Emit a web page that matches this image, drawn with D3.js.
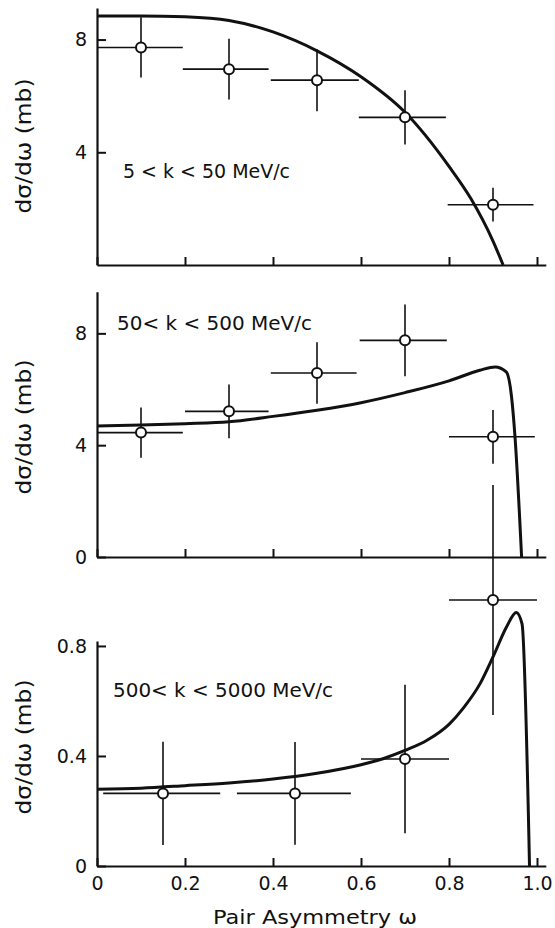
<!DOCTYPE html>
<html>
<head>
<meta charset="utf-8">
<script src="https://cdn.jsdelivr.net/npm/d3@7"></script>
<style>
  body { margin: 0; background: #fff; }
  svg { display: block; }
</style>
</head>
<body>
<div id="chart"></div>
<script>
// Pair asymmetry distributions, three photon-momentum bands

// x-axis ticks (shared)
const xTicks = [0, 0.2, 0.4, 0.6, 0.8, 1.0];

// panel 1: 5 < k < 50 MeV/c
const ptX1 = [0.1, 0.3, 0.5, 0.7, 0.9];
const ptY1 = [7.72, 6.95, 6.56, 5.24, 2.14];
const err1 = [1.07, 1.08, 1.1, 0.96, 0.6];
const binLo1 = [0, 0.195, 0.395, 0.595, 0.797];
const binHi1 = [0.195, 0.39, 0.595, 0.793, 0.992];
const curveX1 = [0, 0.1, 0.2, 0.3, 0.4, 0.5, 0.6, 0.7, 0.8, 0.85, 0.9, 0.923];
const curveY1 = [8.84, 8.84, 8.81, 8.68, 8.27, 7.6, 6.68, 5.42, 3.5, 2.35, 0.85, 0];
const yTicks1 = [4, 8];

// panel 2: 50 < k < 500 MeV/c
const ptX2 = [0.1, 0.3, 0.5, 0.7, 0.9];
const ptY2 = [4.45, 5.21, 6.58, 7.75, 4.3];
const err2 = [0.9, 0.96, 1.1, 1.28, 0.96];
const binLo2 = [0, 0.2, 0.395, 0.597, 0.8];
const binHi2 = [0.195, 0.39, 0.59, 0.795, 0.995];
const curveX2 = [0, 0.1, 0.2, 0.3, 0.4, 0.5, 0.6, 0.7, 0.8, 0.87, 0.905, 0.93, 0.942, 0.95, 0.965];
const curveY2 = [4.69, 4.72, 4.77, 4.84, 5.03, 5.25, 5.52, 5.88, 6.3, 6.68, 6.8, 6.62, 5.75, 4.3, 0];
const yTicks2 = [0, 4, 8];

// panel 3: 500 < k < 5000 MeV/c
const ptX3 = [0.15, 0.45, 0.7, 0.9];
const ptY3 = [0.264, 0.264, 0.389, 0.967];
const err3 = [0.188, 0.187, 0.27, 0.418];
const binLo3 = [0.014, 0.318, 0.6, 0.8];
const binHi3 = [0.28, 0.577, 0.8, 1.0];
const curveX3 = [0, 0.1, 0.2, 0.3, 0.4, 0.5, 0.6, 0.65, 0.7, 0.75, 0.8, 0.833, 0.871, 0.9, 0.931, 0.953, 0.966, 0.983];
const curveY3 = [0.279, 0.283, 0.292, 0.302, 0.316, 0.337, 0.368, 0.39, 0.42, 0.457, 0.515, 0.575, 0.664, 0.76, 0.87, 0.922, 0.88, 0];
const yTicks3 = [0, 0.4, 0.8];

const width = 555, height = 928;
const font = "'DejaVu Sans', sans-serif";

const svg = d3.select("#chart").append("svg")
    .attr("width", width)
    .attr("height", height)
    .style("background", "#fff");

const x = d3.scaleLinear().domain([0, 1.02]).range([97, 97 + 440 * 1.02]);

const fmtY = d => d === 0 ? "0" : (Number.isInteger(d) ? String(d) : d3.format(".1f")(d));
const fmtX = d => d === 0 ? "0" : d3.format(".1f")(d);

const panels = [
    { px: ptX1, py: ptY1, err: err1, lo: binLo1, hi: binHi1, cx: curveX1, cy: curveY1, ticks: yTicks1,
      y: d3.scaleLinear().domain([0, 9.12]).range([265, 8]),
      label: "5 < k < 50 MeV/c", lx: 123, ly: 178, lw: 167, titleY: 146, xLabels: false },
    { px: ptX2, py: ptY2, err: err2, lo: binLo2, hi: binHi2, cx: curveX2, cy: curveY2, ticks: yTicks2,
      y: d3.scaleLinear().domain([0, 9.49]).range([557, 291.7]),
      label: "50< k < 500 MeV/c", lx: 117, ly: 330, lw: 195, titleY: 427, xLabels: false },
    { px: ptX3, py: ptY3, err: err3, lo: binLo3, hi: binHi3, cx: curveX3, cy: curveY3, ticks: yTicks3,
      y: d3.scaleLinear().domain([0, 0.818]).range([866, 641]),
      label: "500< k < 5000 MeV/c", lx: 113, ly: 697, lw: 220, titleY: 747, xLabels: true }
];

panels.forEach(p => {
    const g = svg.append("g");
    const y = p.y;

    // axes, ticks pointing inward
    const yAxis = g.append("g")
        .attr("transform", `translate(${x(0)},0)`)
        .call(d3.axisLeft(y).tickValues(p.ticks).tickSizeInner(-9).tickSizeOuter(0)
            .tickPadding(10).tickFormat(fmtY));
    const xAxis = g.append("g")
        .attr("transform", `translate(0,${y(0)})`)
        .call(d3.axisBottom(x).tickValues(xTicks).tickSizeInner(-8).tickSizeOuter(0)
            .tickPadding(11).tickFormat(p.xLabels ? fmtX : ""));

    [yAxis, xAxis].forEach(a => {
        a.attr("font-family", font).attr("font-size", 19);
        a.select(".domain").attr("stroke", "#111").attr("stroke-width", 2.2);
        a.selectAll(".tick line").attr("stroke", "#111").attr("stroke-width", 2);
        a.selectAll(".tick text").attr("fill", "#111");
    });

    // error bars
    const bars = g.append("g").attr("stroke", "#111").attr("stroke-width", 1.6);
    p.px.forEach((xv, i) => {
        bars.append("line")
            .attr("x1", x(p.lo[i])).attr("x2", x(p.hi[i]))
            .attr("y1", y(p.py[i])).attr("y2", y(p.py[i]));
        bars.append("line")
            .attr("x1", x(xv)).attr("x2", x(xv))
            .attr("y1", y(p.py[i] - p.err[i])).attr("y2", y(p.py[i] + p.err[i]));
    });

    // theory curve
    const line = d3.line()
        .x(d => x(d[0]))
        .y(d => y(d[1]))
        .curve(d3.curveMonotoneX);
    g.append("path")
        .datum(p.cx.map((v, i) => [v, p.cy[i]]))
        .attr("d", line)
        .attr("fill", "none")
        .attr("stroke", "#111")
        .attr("stroke-width", 3)
        .attr("stroke-linejoin", "round");

    // data points
    g.selectAll("circle")
        .data(p.px.map((v, i) => [v, p.py[i]]))
        .enter().append("circle")
        .attr("cx", d => x(d[0]))
        .attr("cy", d => y(d[1]))
        .attr("r", 5)
        .attr("fill", "#fff")
        .attr("stroke", "#111")
        .attr("stroke-width", 2);

    // band label
    g.append("text")
        .attr("x", p.lx).attr("y", p.ly)
        .attr("font-family", font).attr("font-size", 19)
        .attr("textLength", p.lw).attr("lengthAdjust", "spacingAndGlyphs")
        .attr("fill", "#111")
        .text(p.label);

    // y title
    g.append("text")
        .attr("transform", `translate(31,${p.titleY}) rotate(-90)`)
        .attr("text-anchor", "middle")
        .attr("font-family", font).attr("font-size", 21)
        .attr("textLength", 135).attr("lengthAdjust", "spacingAndGlyphs")
        .attr("fill", "#111")
        .text("dσ/dω  (mb)");
});

svg.append("text")
    .attr("x", 315).attr("y", 924)
    .attr("text-anchor", "middle")
    .attr("font-family", font).attr("font-size", 19)
    .attr("textLength", 204).attr("lengthAdjust", "spacingAndGlyphs")
    .attr("fill", "#111")
    .text("Pair Asymmetry  ω");
</script>
</body>
</html>
